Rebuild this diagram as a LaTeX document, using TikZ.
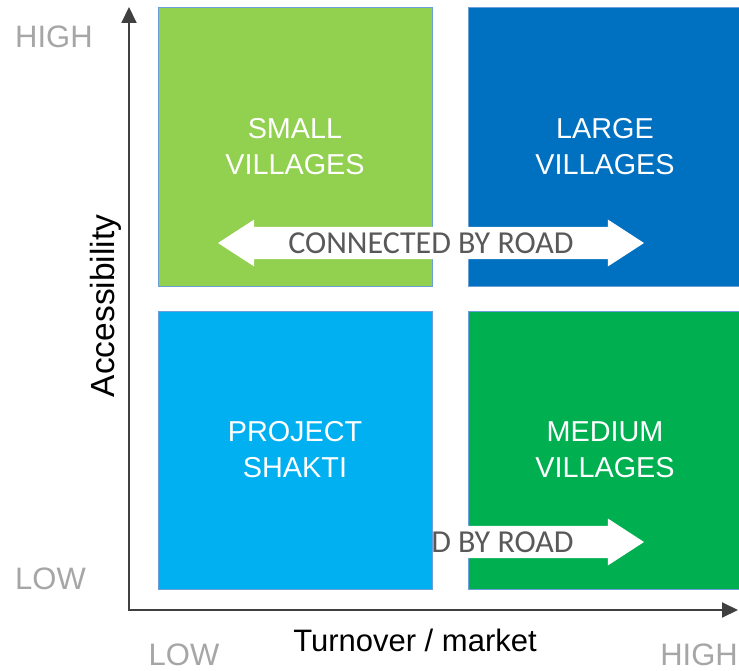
\documentclass[tikz,border=0pt]{standalone}
\usepackage{fontspec}
\setmainfont{Liberation Sans}
\newfontfamily\roadfont{Carlito}
\usepackage{xcolor}
\usetikzlibrary{shapes.arrows, arrows.meta, positioning}
\definecolor{lightgreen}{HTML}{92D050}
\definecolor{darkblue}{HTML}{0070C0}
\definecolor{skyblue}{HTML}{00B0F0}
\definecolor{midgreen}{HTML}{00B050}
\definecolor{edgeblue}{HTML}{6A9FD8}
\definecolor{axisgray}{HTML}{404040}
\definecolor{levelgray}{HTML}{A6A6A6}
\definecolor{roadgray}{HTML}{595959}
\tikzstyle{axis} = [line width=2pt, draw=axisgray, {Triangle[width=15pt,length=16pt]}-{Triangle[width=15pt,length=16pt]}]

\begin{document}
\begin{tikzpicture}[x=1pt, y=-1pt]
\tikzstyle{segment} = [rectangle, minimum width=274pt, minimum height=278pt, draw=edgeblue, line width=1pt, text=white, align=center, font=\fontsize{28.8}{36}\selectfont, inner sep=0pt]
\tikzstyle{road} = [double arrow, fill=white, minimum height=426pt, minimum width=47pt, double arrow head extend=5pt, double arrow tip angle=66, inner sep=0pt, text=roadgray, font=\roadfont\fontsize{32}{36}\selectfont]
\tikzstyle{level} = [text=levelgray, font=\fontsize{31}{36}\selectfont, inner sep=0pt]
\tikzstyle{axislabel} = [font=\fontsize{31}{36}\selectfont, inner sep=0pt]

\useasboundingbox (0,0) rectangle (739,671);

\node (small) [segment, fill=lightgreen] at (295,147) {SMALL\\VILLAGES};
\node (large) [segment, fill=darkblue] at (605,147) {LARGE\\VILLAGES};
\node (medium) [segment, fill=midgreen] at (605,450) {MEDIUM\\VILLAGES};
\node (upperroad) [road] at (431,243) {CONNECTED BY ROAD};
\node (lowerroad) [road] at (431,542) {CONNECTED BY ROAD};
\node (shakti) [segment, fill=skyblue] at (295,450) {PROJECT\\SHAKTI};

\coordinate (origin) at (129,610);
\coordinate (ytop) at (129,7);
\coordinate (xend) at (738,610);
\draw [axis] (ytop) -- (origin) -- (xend);

\node (yhigh) [level, anchor=west] at (15,37) {HIGH};
\node (ylow) [level, anchor=west] at (15,579) {LOW};
\node (xlow) [level] at (184,655) {LOW};
\node (xhigh) [level] at (699,655) {HIGH};
\node (xlabel) [axislabel, anchor=base] at (415,651) {Turnover / market};
\node (ylabel) [axislabel, rotate=90, anchor=base, font=\fontsize{33.5}{36}\selectfont] at (114,306) {Accessibility};

\end{tikzpicture}
\end{document}
